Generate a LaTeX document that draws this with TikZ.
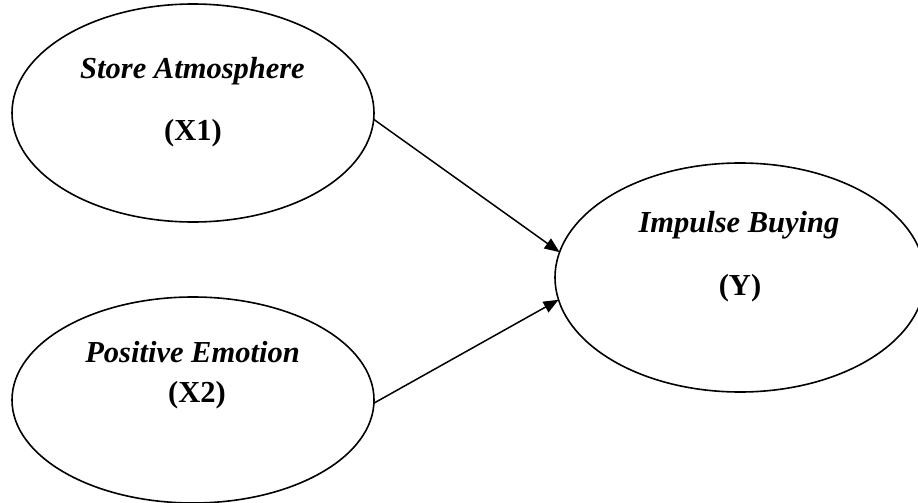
\documentclass[tikz,border=0pt]{standalone}
\usepackage{fontspec}
\setmainfont{Liberation Serif}
\usetikzlibrary{arrows.meta,shapes.geometric}
\begin{document}
\begin{tikzpicture}[x=1pt,y=-1pt,
  latent/.style={draw, line width=1.6pt, ellipse, inner sep=0pt, outer sep=0pt},
  lbl/.style={anchor=base, inner sep=0pt, font=\fontsize{30.5}{36}\selectfont\bfseries},
  path/.style={line width=1.5pt, -{Triangle[length=15pt,width=12pt]}}]
\useasboundingbox (0,0) rectangle (918,503);
\node[latent, minimum width=362pt, minimum height=218pt] (a) at (193,113) {};
\node[latent, minimum width=362pt, minimum height=206pt] (b) at (193,400) {};
\node[latent, minimum width=370pt, minimum height=229pt] (c) at (740,277.5) {};
\node[lbl] (a1) at (192.5,78) {\itshape Store Atmosphere};
\node[lbl] (a2) at (193,140) {(X1)};
\node[lbl] (b1) at (192.5,362) {\itshape Positive Emotion};
\node[lbl] (b2) at (197,402) {(X2)};
\node[lbl] (c1) at (739,232) {\itshape Impulse Buying};
\node[lbl] (c2) at (740,295) {(Y)};
\draw[path] (a.-2) -- (c.172.5);
\draw[path] (b.-1) -- (c.187);
\end{tikzpicture}
\end{document}
